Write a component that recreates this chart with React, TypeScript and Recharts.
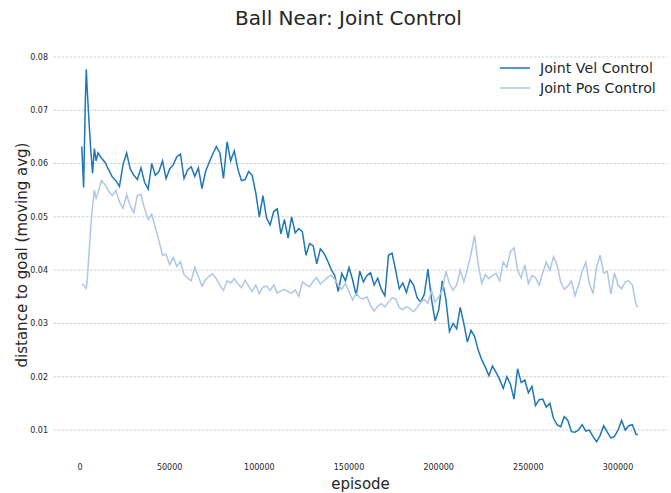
import { LineChart, Line, XAxis, YAxis, CartesianGrid } from 'recharts';

const FONT = '"DejaVu Sans", sans-serif';

const episodes = [
  1000, 2000, 3000, 3500, 4000, 5000, 6000, 7000, 8000, 9000, 10000,
  12000, 14000, 16000, 18000, 20000, 22000, 24000, 26000, 28000, 30000,
  32000, 34000, 36000, 38000, 40000, 42000, 44000, 46000, 48000, 50000,
  52000, 54000, 56000, 58000, 60000, 62000, 64000, 66000, 68000, 70000,
  72000, 74000, 76000, 78000, 80000, 82000, 84000, 86000, 88000, 90000,
  92000, 94000, 96000, 98000, 100000, 102000, 104000, 106000, 108000, 110000,
  112000, 114000, 116000, 118000, 120000, 122000, 124000, 126000, 128000, 130000,
  132000, 134000, 136000, 138000, 140000, 142000, 144000, 146000, 148000, 150000,
  152000, 154000, 156000, 158000, 160000, 162000, 164000, 166000, 168000, 170000,
  172000, 174000, 176000, 178000, 180000, 182000, 184000, 186000, 188000, 190000,
  192000, 194000, 196000, 198000, 200000, 202000, 204000, 206000, 208000, 210000,
  212000, 214000, 216000, 218000, 220000, 222000, 224000, 226000, 228000, 230000,
  232000, 234000, 236000, 238000, 240000, 242000, 244000, 246000, 248000, 250000,
  252000, 254000, 256000, 258000, 260000, 262000, 264000, 266000, 268000, 270000,
  272000, 274000, 276000, 278000, 280000, 282000, 284000, 286000, 288000, 290000,
  292000, 294000, 296000, 298000, 300000, 302000, 304000, 306000, 308000, 310000,
  311000,
];

const velControl = [
  0.0632, 0.0555, 0.0720, 0.0777, 0.0740, 0.0680, 0.0626, 0.0582, 0.0628, 0.0605, 0.0620,
  0.0610, 0.0602, 0.0588, 0.0575, 0.0568, 0.0557, 0.0598, 0.0620, 0.0590, 0.0578,
  0.0570, 0.0592, 0.0565, 0.0552, 0.0600, 0.0578, 0.0585, 0.0605, 0.0572, 0.0590,
  0.0598, 0.0613, 0.0618, 0.0572, 0.0588, 0.0594, 0.0576, 0.0592, 0.0553, 0.0585,
  0.0602, 0.0618, 0.0632, 0.0620, 0.0572, 0.0641, 0.0605, 0.0624, 0.0590, 0.0568,
  0.0570, 0.0585, 0.0578, 0.0545, 0.0500, 0.0540, 0.0498, 0.0485, 0.0510, 0.0515,
  0.0468, 0.0495, 0.0460, 0.0500, 0.0470, 0.0478, 0.0472, 0.0428, 0.0450, 0.0446,
  0.0412, 0.0440, 0.0432, 0.0418, 0.0402, 0.0390, 0.0360, 0.0394, 0.0380, 0.0405,
  0.0382, 0.0352, 0.0398, 0.0378, 0.0390, 0.0395, 0.0372, 0.0385, 0.0364, 0.0352,
  0.0428, 0.0432, 0.0400, 0.0365, 0.0376, 0.0358, 0.0382, 0.0372, 0.0348, 0.0340,
  0.0355, 0.0402, 0.0345, 0.0305, 0.0325, 0.0380, 0.0345, 0.0285, 0.0300, 0.0290,
  0.0330, 0.0300, 0.0265, 0.0287, 0.0276, 0.0250, 0.0232, 0.0218, 0.0202, 0.0220,
  0.0208, 0.0195, 0.0178, 0.0200, 0.0186, 0.0158, 0.0215, 0.0189, 0.0194, 0.0170,
  0.0182, 0.0146, 0.0157, 0.0158, 0.0143, 0.0150, 0.0122, 0.0110, 0.0106, 0.0125,
  0.0118, 0.0097, 0.0096, 0.0100, 0.0110, 0.0098, 0.0100, 0.0088, 0.0078, 0.0090,
  0.0108, 0.0096, 0.0085, 0.0088, 0.0100, 0.0118, 0.0100, 0.0108, 0.0110, 0.0092,
  0.0091,
];

const posControl = [
  0.0374, 0.0372, 0.0368, 0.0366, 0.0380, 0.0430, 0.0482, 0.0520, 0.0550, 0.0535, 0.0545,
  0.0568, 0.0560, 0.0548, 0.0540, 0.0550, 0.0528, 0.0516, 0.0542, 0.0520, 0.0508,
  0.0540, 0.0542, 0.0515, 0.0495, 0.0505, 0.0480, 0.0455, 0.0428, 0.0430, 0.0410,
  0.0424, 0.0407, 0.0416, 0.0392, 0.0385, 0.0380, 0.0405, 0.0388, 0.0370, 0.0382,
  0.0389, 0.0393, 0.0384, 0.0372, 0.0362, 0.0380, 0.0376, 0.0384, 0.0375, 0.0367,
  0.0381, 0.0370, 0.0360, 0.0372, 0.0356, 0.0368, 0.0370, 0.0362, 0.0372, 0.0357,
  0.0361, 0.0364, 0.0360, 0.0357, 0.0363, 0.0351, 0.0378, 0.0373, 0.0369, 0.0379,
  0.0386, 0.0374, 0.0380, 0.0386, 0.0391, 0.0383, 0.0372, 0.0364, 0.0375, 0.0360,
  0.0344, 0.0356, 0.0348, 0.0346, 0.0350, 0.0334, 0.0323, 0.0332, 0.0337, 0.0331,
  0.0340, 0.0348, 0.0346, 0.0330, 0.0326, 0.0331, 0.0328, 0.0322, 0.0330, 0.0340,
  0.0345, 0.0338, 0.0362, 0.0340, 0.0350, 0.0362, 0.0398, 0.0375, 0.0362, 0.0372,
  0.0400, 0.0378, 0.0402, 0.0430, 0.0465, 0.0412, 0.0375, 0.0392, 0.0384, 0.0390,
  0.0394, 0.0380, 0.0415, 0.0405, 0.0435, 0.0442, 0.0400, 0.0385, 0.0410, 0.0375,
  0.0390, 0.0386, 0.0372, 0.0395, 0.0415, 0.0400, 0.0425, 0.0410, 0.0378, 0.0364,
  0.0370, 0.0380, 0.0352, 0.0372, 0.0398, 0.0415, 0.0375, 0.0356, 0.0405, 0.0428,
  0.0395, 0.0398, 0.0355, 0.0395, 0.0372, 0.0365, 0.0378, 0.0380, 0.0372, 0.0336,
  0.0330,
];

const xTicks = [0, 50000, 100000, 150000, 200000, 250000, 300000];
const yTicks = [0.01, 0.02, 0.03, 0.04, 0.05, 0.06, 0.07, 0.08];

const seriesNames = ['Joint Vel Control', 'Joint Pos Control'];
const seriesColors = ['#1f77b4', '#aec7e8'];

const data = episodes.map((ep, i) => ({
  episode: ep,
  vel: velControl[i],
  pos: posControl[i],
}));

function LegendBox() {
  return (
    <div
      style={{
        position: 'absolute', left: 500, top: 58,
        fontFamily: FONT, fontSize: 14.2, color: '#262626',
      }}
    >
      {seriesNames.map((name, i) => (
        <div key={name} style={{ display: 'flex', alignItems: 'center', height: 20 }}>
          <svg width={30} height={4} style={{ marginRight: 10 }}>
            <line x1={0} y1={2} x2={30} y2={2} stroke={seriesColors[i]} strokeWidth={1.5} />
          </svg>
          <span>{name}</span>
        </div>
      ))}
    </div>
  );
}

export default function App() {
  return (
    <div style={{ position: 'absolute', left: 0, top: 0, width: 671, height: 493, background: '#fff' }}>
      <div
        style={{
          position: 'absolute', left: 42, width: 613, top: 6, textAlign: 'center',
          fontFamily: FONT, fontSize: 20, color: '#262626',
        }}
      >
        Ball Near: Joint Control
      </div>
      <div
        style={{
          position: 'absolute', left: 54, width: 613, top: 475, textAlign: 'center',
          fontFamily: FONT, fontSize: 15, color: '#262626',
        }}
      >
        episode
      </div>
      <div
        style={{
          position: 'absolute', left: 22, top: 255, transform: 'translate(-50%, -50%) rotate(-90deg)',
          whiteSpace: 'nowrap', fontFamily: FONT, fontSize: 15, color: '#262626',
        }}
      >
        distance to goal (moving avg)
      </div>
      <LineChart width={671} height={493} data={data} margin={{ top: 49, right: 4, bottom: 0, left: 0 }}>
        <CartesianGrid
          vertical={false}
          horizontalValues={yTicks}
          stroke="#c4c4c4"
          strokeDasharray="2.5 1.5"
          strokeWidth={0.8}
        />
        <XAxis
          dataKey="episode"
          type="number"
          domain={[-14500, 327300]}
          allowDataOverflow
          ticks={xTicks}
          height={31}
          axisLine={false}
          tickLine={false}
          tickSize={0}
          tickMargin={2}
          tick={{ fontSize: 8, fontFamily: FONT, fill: '#262626' }}
        />
        <YAxis
          type="number"
          domain={[0.004, 0.0815]}
          allowDataOverflow
          ticks={yTicks}
          width={54}
          axisLine={false}
          tickLine={false}
          tickSize={0}
          tickMargin={6}
          tickFormatter={(v) => v.toFixed(2)}
          tick={{ fontSize: 8, fontFamily: FONT, fill: '#262626' }}
        />
        <Line
          dataKey="vel"
          name={seriesNames[0]}
          stroke={seriesColors[0]}
          strokeWidth={1.5}
          dot={false}
          isAnimationActive={false}
        />
        <Line
          dataKey="pos"
          name={seriesNames[1]}
          stroke={seriesColors[1]}
          strokeWidth={1.5}
          dot={false}
          isAnimationActive={false}
        />
      </LineChart>
      <LegendBox />
    </div>
  );
}
